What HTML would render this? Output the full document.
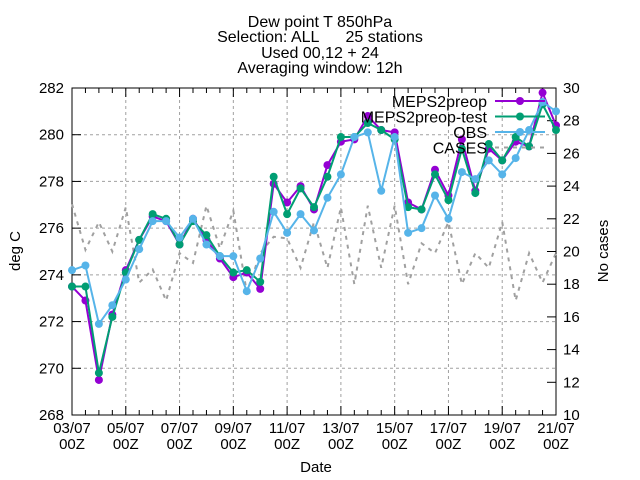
<!DOCTYPE html>
<html><head><meta charset="utf-8"><style>
body{margin:0;background:#fff}
svg{display:block;font-family:"Liberation Sans",sans-serif}
text{white-space:pre}
</style></head><body>
<svg id="chart" width="640" height="480" viewBox="0 0 640 480">
<g id="title" font-size="16" text-anchor="middle" fill="#000">
<text x="320" y="27">Dew point T 850hPa</text>
<text x="320" y="42" xml:space="preserve">Selection: ALL      25 stations</text>
<text x="320" y="58">Used 00,12 + 24</text>
<text x="320" y="73">Averaging window: 12h</text>
</g>
<g id="grid"></g>
<g id="axes"></g>
<g id="series"></g>
<g id="legend"></g>
<text x="316" y="472" font-size="15" text-anchor="middle">Date</text>
<text transform="translate(20,251) rotate(-90)" font-size="15" text-anchor="middle">deg C</text>
<text transform="translate(608,251) rotate(-90)" font-size="15" text-anchor="middle">No cases</text>
</svg>
<script>
const xLabels = ["03/07","05/07","07/07","09/07","11/07","13/07","15/07","17/07","19/07","21/07"];
const yTicks = [268,270,272,274,276,278,280,282];
const y2Ticks = [10,12,14,16,18,20,22,24,26,28,30];
const meps = [273.5,272.9,269.5,272.3,274.2,275.5,276.5,276.3,275.3,276.4,275.5,274.7,273.9,274.1,273.4,277.9,277.1,277.8,276.8,278.7,279.7,279.8,280.8,280.2,280.1,277.1,276.8,278.5,277.4,279.8,277.6,279.4,278.9,279.7,279.5,281.8,280.4];
const mepsTest = [273.5,273.5,269.8,272.2,274.1,275.5,276.6,276.4,275.3,276.3,275.7,274.8,274.1,274.2,273.7,278.2,276.6,277.7,276.9,278.2,279.9,279.9,280.5,280.2,279.8,276.9,276.8,278.3,277.2,279.4,277.5,279.6,278.9,279.9,279.5,281.3,280.2];
const obs = [274.2,274.4,271.9,272.7,273.8,275.1,276.3,276.3,275.6,276.4,275.3,274.8,274.8,273.3,274.7,276.7,275.8,276.6,275.9,277.3,278.3,279.9,280.1,277.6,279.9,275.8,276.0,277.4,276.4,278.4,278.1,278.9,278.3,279.0,280.2,281.4,281.0];
const cases = [22.9,20.1,21.8,20,22.7,18.1,18.9,17,19.9,19.3,22.8,20.2,22.5,17.5,19.9,20.9,20.8,19,21.8,19,22.7,18,22.8,19,22.8,18,20.5,19.9,21.8,18,19.9,19,21.8,17,19.9,18.1,19.9];

const NS="http://www.w3.org/2000/svg";
const L=72,R=556,T=88,B=415;
const nPts=37;
const xs=i=>L+(R-L)*i/(nPts-1);
const ys=v=>B-(B-T)*(v-268)/(282-268);
const ys2=v=>B-(B-T)*(v-10)/(30-10);
function mk(tag,attrs,parent){const e=document.createElementNS(NS,tag);for(const k in attrs)e.setAttribute(k,attrs[k]);parent.appendChild(e);return e;}
const grid=document.getElementById('grid'),axes=document.getElementById('axes'),ser=document.getElementById('series'),leg=document.getElementById('legend');

yTicks.forEach(v=>{const y=ys(v);
 if(v>268&&v<282){const g=mk('line',{x1:L,x2:R,y1:y,y2:y,stroke:'#a0a0a0','stroke-dasharray':'3,3'},grid);}
 mk('line',{x1:L,x2:L+9,y1:y,y2:y,stroke:'#000'},axes);
 const t=mk('text',{x:L-8,y:y+5,'font-size':15,'text-anchor':'end'},axes);t.textContent=v;
 
});
y2Ticks.forEach(v=>{const y=ys2(v);
 mk('line',{x1:R-9,x2:R,y1:y,y2:y,stroke:'#000'},axes);
 const t=mk('text',{x:R+7,y:y+5,'font-size':15,'text-anchor':'start'},axes);t.textContent=v;
 
});
for(let i=0;i<nPts;i++){const x=xs(i);
 const major=i%4===0;
 if(major&&i>0&&i<nPts-1){const g=mk('line',{x1:x,x2:x,y1:T,y2:B,stroke:'#a0a0a0','stroke-dasharray':'3,3'},grid);}
 const len=major?9:5;
 mk('line',{x1:x,x2:x,y1:B,y2:B-len,stroke:'#000'},axes);
 mk('line',{x1:x,x2:x,y1:T,y2:T+len,stroke:'#000'},axes);
}
xLabels.forEach((lab,k)=>{const x=xs(k*4);
 const t=mk('text',{x:x,y:433,'font-size':15,'text-anchor':'middle'},axes);t.textContent=lab;
 
 const t2=mk('text',{x:x,y:449,'font-size':15,'text-anchor':'middle'},axes);t2.textContent='00Z';
 
});
const frame=mk('rect',{x:L,y:T,width:R-L,height:B-T,fill:'none',stroke:'#000'},axes);


const cp=mk('polyline',{points:cases.map((v,i)=>xs(i)+','+ys2(v)).join(' '),fill:'none',stroke:'#a0a0a0','stroke-width':2,'stroke-dasharray':'4,5'},ser);


function series(data,color,name){
 const p=mk('polyline',{points:data.map((v,i)=>xs(i)+','+ys(v)).join(' '),fill:'none',stroke:color,'stroke-width':2},ser);
 
 data.forEach((v,i)=>{const c=mk('circle',{cx:xs(i),cy:ys(v),r:4,fill:color},ser);
  });
}
series(meps,'#9400d3','meps2preop');
series(mepsTest,'#009e73','meps2preop-test');
series(obs,'#56b4e9','obs');

const legItems=[['MEPS2preop','#9400d3',false],['MEPS2preop-test','#009e73',false],['OBS','#56b4e9',false],['CASES','#a0a0a0',true]];
legItems.forEach((it,k)=>{const y=101+k*15.5;
 const t=mk('text',{x:487,y:y+6,'font-size':16,'text-anchor':'end'},leg);t.textContent=it[0];
 
 const l=mk('line',{x1:495,x2:545,y1:y,y2:y,stroke:it[1],'stroke-width':2},leg);
 if(it[2])l.setAttribute('stroke-dasharray','4,5');
 
 if(!it[2]){const c=mk('circle',{cx:520,cy:y,r:4,fill:it[1]},leg);}
});
</script>
</body></html>
